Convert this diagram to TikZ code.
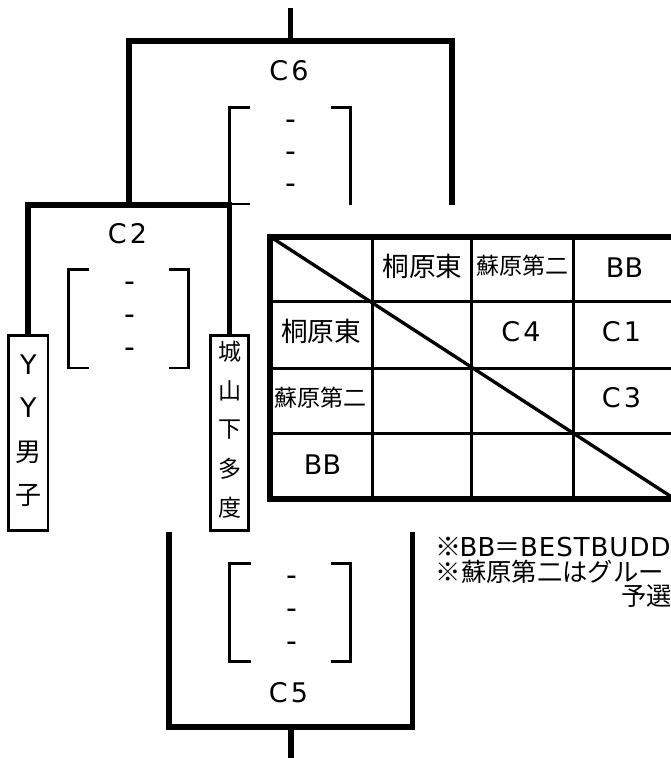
\documentclass[tikz,border=0pt]{standalone}
\usepackage{fontspec}
\setmainfont{DejaVu Sans}
\newfontfamily\jp{Noto Sans CJK JP}
\newcommand\myfs[1]{\fontsize{#1}{#1}\selectfont}
\newcommand\ck{\kern2.5pt}
\newcommand\lk{\kern0.75pt}
\tikzset{
  thickln/.style={line width=4.3pt, line join=miter},
  thinbr/.style={line width=2pt, line join=miter},
  gridln/.style={line width=2.5pt},
  outerln/.style={line width=4.5pt, line join=miter},
  clabel/.style={inner sep=0pt, font=\myfs{20.25pt}},
  dashtxt/.style={inner sep=0pt, anchor=base, font=\myfs{22.5pt}},
  vbox/.style={draw, line width=2pt, minimum width=29.4pt, minimum height=146.5pt, inner sep=0pt, outer sep=0pt},
  ylat/.style={inner sep=0pt, font=\myfs{20.25pt}},
  yjp/.style={inner sep=0pt, font=\jp\myfs{19.5pt}},
  jojp/.style={inner sep=0pt, font=\jp\myfs{17.25pt}},
  jpbig/.style={inner sep=0pt, font=\jp\myfs{20pt}},
  jpsmall/.style={inner sep=0pt, font=\jp\myfs{17.25pt}},
  bbtxt/.style={inner sep=0pt, font=\myfs{20.25pt}},
  notetxt/.style={inner sep=0pt, anchor=base west}
}
\begin{document}
\begin{tikzpicture}[x=0.75pt,y=-0.75pt]
\useasboundingbox (0,0) rectangle (671,758);
\clip (0,0) rectangle (671,758);

% team boxes
\node[vbox] (yy) at (28.3,433) {};
\node[vbox, minimum width=28.8pt] (jo) at (229.5,433) {};
\node[ylat] (yy1) at (28.3,365) {Y};
\node[ylat] (yy2) at (28.3,408) {Y};
\node[yjp]  (yy3) at (28.3,452) {男};
\node[yjp]  (yy4) at (28.3,495) {子};
\node[jojp] (jo1) at (229.5,352) {城};
\node[jojp] (jo2) at (229.5,391) {山};
\node[jojp] (jo3) at (229.5,430) {下};
\node[jojp] (jo4) at (229.5,469) {多};
\node[jojp] (jo5) at (229.5,508) {度};

% bracket tree
\coordinate (c2top) at (129,205);
\coordinate (c6top) at (290.5,41);
\coordinate (c6r) at (452,205);
\coordinate (stemtop) at (290.5,8);
\draw[thickln] (yy.north) |- (c2top) -| (jo.north);
\draw[thickln] (c2top) |- (c6top) -| (c6r);
\draw[thickln] (c6top) -- (stemtop);

\coordinate (c5l) at (169,532);
\coordinate (c5r) at (412.5,532);
\coordinate (c5bot) at (290.7,726.7);
\coordinate (stembot) at (290.7,758);
\draw[thickln] (c5l) |- (c5bot) -| (c5r);
\draw[thickln] (c5bot) -- (stembot);

% match labels
\node[clabel] (c6) at (289,71) {C\ck 6};
\node[clabel] (c2) at (127.5,234) {C\ck 2};
\node[clabel] (c5) at (288.5,692.5) {C\ck 5};

% score brackets C6
\draw[thinbr] (250,107.3) -- (229.3,107.3) -- (229.3,204) -- (250,204);
\draw[thinbr] (331,107.3) -- (350.5,107.3) -- (350.5,205);
\node[dashtxt] (d61) at (291,129.3) {-};
\node[dashtxt] (d62) at (291,161.3) {-};
\node[dashtxt] (d63) at (291,193.3) {-};
% score brackets C2
\draw[thinbr] (89.3,269.7) -- (68.3,269.7) -- (68.3,368) -- (89.3,368);
\draw[thinbr] (169.3,269.7) -- (188.3,269.7) -- (188.3,368) -- (169.3,368);
\node[dashtxt] (d21) at (130,291.6) {-};
\node[dashtxt] (d22) at (130,324) {-};
\node[dashtxt] (d23) at (130,357.3) {-};
% score brackets C5
\draw[thinbr] (250.7,563.3) -- (229.2,563.3) -- (229.2,661.3) -- (250.7,661.3);
\draw[thinbr] (331,563.3) -- (350.7,563.3) -- (350.7,661.3) -- (331,661.3);
\node[dashtxt] (d51) at (291.5,585.6) {-};
\node[dashtxt] (d52) at (291.5,618.3) {-};
\node[dashtxt] (d53) at (291.5,651.6) {-};

% league table
\coordinate (tl) at (270,236.5);
\coordinate (br) at (674,498.5);
\draw[gridln] (372.7,236.5) -- (372.7,498.5);
\draw[gridln] (471.7,236.5) -- (471.7,498.5);
\draw[gridln] (573.3,236.5) -- (573.3,498.5);
\draw[gridln] (270,301.7) -- (674,301.7);
\draw[gridln] (270,368.3) -- (674,368.3);
\draw[gridln] (270,433.3) -- (674,433.3);
\draw[gridln] (tl) -- (br);
\draw[outerln] (tl) rectangle (br);

\node[jpbig]   (h1) at (422.5,266.5) {桐原東};
\node[jpsmall] (h2) at (522.5,266) {蘇原第二};
\node[bbtxt]   (h3) at (624.5,268) {BB};
\node[jpbig]   (r1) at (321,331) {桐原東};
\node[clabel]  (m12) at (521,332) {C\ck 4};
\node[clabel]  (m13) at (621.5,332) {C\ck 1};
\node[jpsmall] (r2) at (320,398) {蘇原第二};
\node[clabel]  (m23) at (621.5,397.5) {C\ck 3};
\node[bbtxt]   (r3) at (322.5,465) {BB};

% notes
\node[notetxt] (n1) at (435.4,556) {{\jp\myfs{19.5pt}※}\kern-1.5pt{\myfs{19.5pt}BB}\kern-0.5pt{\jp\myfs{19.5pt}＝}\kern-0.5pt{\myfs{19.5pt}B\lk E\lk S\lk T\lk B\lk U\lk D\lk D}};
\node[notetxt] (n2) at (435.4,581.5) {\jp\myfs{19pt}※蘇原第二はグルー};
\node[notetxt] (n3) at (621,605.5) {\jp\myfs{19pt}予選};
\end{tikzpicture}
\end{document}
